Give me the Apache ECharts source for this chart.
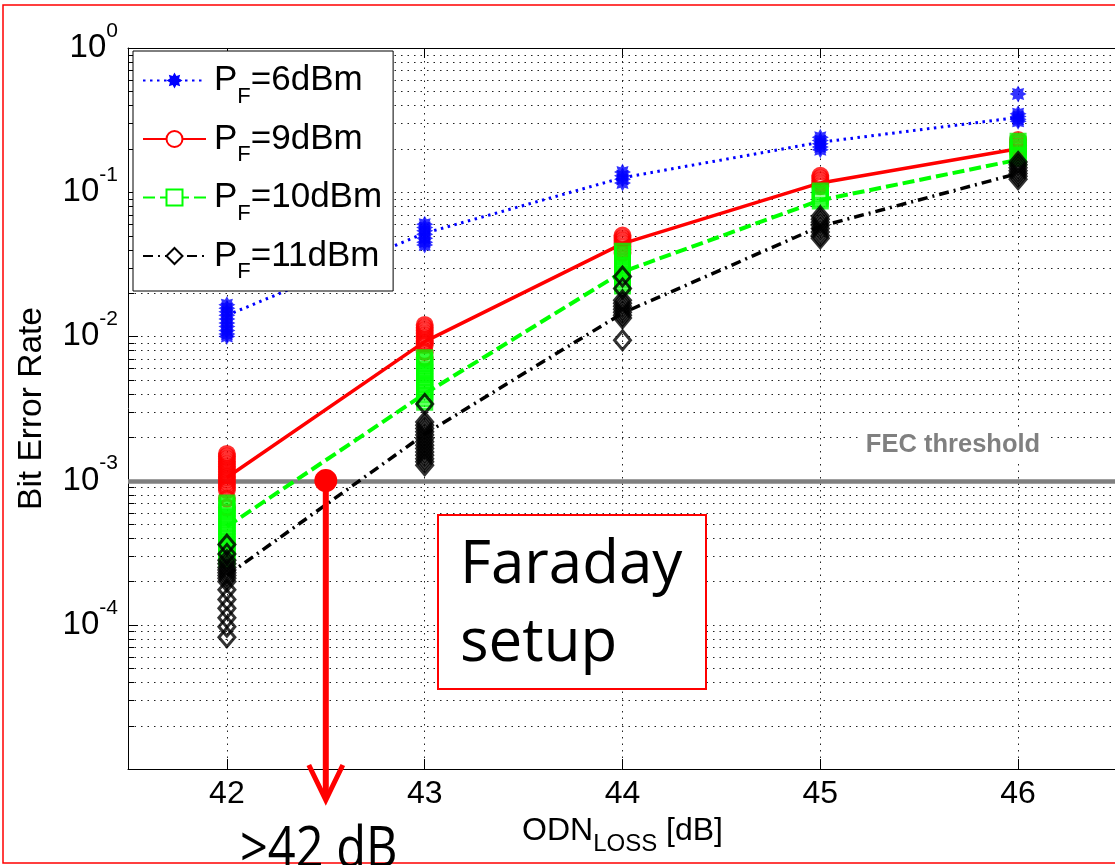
<!DOCTYPE html>
<html>
<head>
<meta charset="utf-8">
<title>BER vs ODN loss - Faraday setup</title>
<script src="https://cdn.jsdelivr.net/npm/echarts@6.0.0/dist/echarts.min.js"></script>
<style>
  html, body { margin: 0; padding: 0; background: #fff; }
  #chart { width: 1115px; height: 865px; }
</style>
</head>
<body>
<div id="chart"></div>
<script>
// ODN loss [dB] at which BER was measured
var lossDb = [42, 43, 44, 45, 46];
var powerNames = ['P_F=6dBm', 'P_F=9dBm', 'P_F=10dBm', 'P_F=11dBm'];

// curve through the measurements (one value per loss)
var ber6dBm = [0.014, 0.052, 0.126, 0.222, 0.33];
var ber9dBm = [1.05e-3, 9.2e-3, 0.044, 0.116, 0.2];
var ber10dBm = [4.8e-4, 4.0e-3, 0.028, 0.088, 0.168];
var ber11dBm = [2.2e-4, 2.1e-3, 0.0145, 0.058, 0.135];

// single measurements, one list per loss value
var runs6dBm = [
  [0.0166, 0.0157, 0.0148, 0.014, 0.0132, 0.0124, 0.0117, 0.011, 0.0104, 0.01],
  [0.06, 0.057, 0.054, 0.051, 0.048, 0.045, 0.043],
  [0.138, 0.13, 0.123, 0.116],
  [0.24, 0.228, 0.217, 0.206, 0.197],
  [0.48, 0.35, 0.335, 0.32, 0.31]
];
var runs9dBm = [
  [1.53e-3, 1.47e-3, 1.41e-3, 1.35e-3, 1.3e-3, 1.25e-3, 1.2e-3, 1.15e-3, 1.1e-3, 1.06e-3, 1.02e-3, 9.8e-4, 9.4e-4, 9.0e-4, 8.6e-4, 7.5e-4, 6.5e-4],
  [0.012, 0.0115, 0.011, 0.0105, 0.0101, 0.0097, 0.0093, 0.009, 0.0087, 0.0078, 0.0071],
  [0.05, 0.048, 0.046, 0.044, 0.042, 0.04, 0.038],
  [0.13, 0.125, 0.12, 0.115, 0.11],
  [0.23, 0.22, 0.21, 0.2, 0.19]
];
var runs10dBm = [
  [7.0e-4, 6.7e-4, 6.4e-4, 6.1e-4, 5.8e-4, 5.55e-4, 5.3e-4, 5.05e-4, 4.8e-4, 4.6e-4, 4.4e-4, 4.2e-4, 4.0e-4, 3.8e-4, 3.6e-4, 3.45e-4, 3.3e-4, 3.15e-4, 3.0e-4, 2.85e-4],
  [7.1e-3, 6.8e-3, 6.5e-3, 6.2e-3, 5.9e-3, 5.65e-3, 5.4e-3, 5.15e-3, 4.9e-3, 4.7e-3, 4.5e-3, 4.3e-3, 4.1e-3, 3.9e-3, 3.7e-3, 3.5e-3],
  [0.039, 0.0372, 0.0355, 0.034, 0.0325, 0.031, 0.0296, 0.0283, 0.027, 0.0258, 0.0246, 0.0235, 0.0224],
  [0.102, 0.098, 0.094, 0.09, 0.087],
  [0.226, 0.216, 0.206, 0.197, 0.188, 0.18, 0.172]
];
var runs11dBm = [
  [3.6e-4, 3.1e-4, 2.8e-4, 2.65e-4, 2.5e-4, 2.4e-4, 2.3e-4, 2.2e-4, 2.1e-4, 2.0e-4, 1.75e-4, 1.5e-4, 1.3e-4, 1.12e-4, 9.7e-5, 8.2e-5],
  [3.4e-3, 2.55e-3, 2.42e-3, 2.3e-3, 2.18e-3, 2.07e-3, 1.96e-3, 1.86e-3, 1.76e-3, 1.67e-3, 1.58e-3, 1.5e-3, 1.42e-3, 1.35e-3, 1.28e-3],
  [0.026, 0.0215, 0.0178, 0.017, 0.0162, 0.0154, 0.0147, 0.014, 0.0134, 0.0094],
  [0.068, 0.065, 0.062, 0.059, 0.056, 0.053, 0.05, 0.048],
  [0.162, 0.155, 0.148, 0.141, 0.135, 0.129, 0.123]
];

var fecBer = 1e-3;      // FEC threshold
var reachDb = 42.5;     // loss where the best curve crosses the threshold

var curves = [ber6dBm, ber9dBm, ber10dBm, ber11dBm];
var runs = [runs6dBm, runs9dBm, runs10dBm, runs11dBm];

// minor grid values 2..9 x 10^n
var minorBer = [];
for (var e = -5; e < 0; e++) {
  for (var k = 2; k <= 9; k++) minorBer.push(k * Math.pow(10, e));
}

var FONT = 'Liberation Sans';
var gridDots = { color: '#222', type: [1.5, 5], width: 1 };

// 8 point star, used for the matlab '*' marker
function starPath() {
  var d = '';
  for (var i = 0; i < 16; i++) {
    var r = i % 2 ? 0.62 : 1;
    var a = i * Math.PI / 8;
    d += (i ? 'L' : 'M') + (r * Math.sin(a)).toFixed(3) + ' ' + (-r * Math.cos(a)).toFixed(3);
  }
  return 'path://' + d + 'Z';
}
var STAR = starPath();

var looks = [
  { color: '#0000ff', type: [2.5, 4.5], width: 3, marker: STAR, legendMarker: STAR, size: 17, filled: true },
  { color: '#ff0000', type: 'solid', width: 3.5, marker: 'circle', legendMarker: 'emptyCircle', size: 15 },
  { color: '#00ff00', type: [12, 5], width: 4, marker: 'rect', legendMarker: 'emptyRect', size: 14 },
  { color: '#000000', type: [10, 5, 2, 5], width: 3.5, marker: 'diamond', legendMarker: 'emptyDiamond', size: [16, 19] }
];

function pairs(arr) {
  return arr.map(function (v, i) { return [lossDb[i], v]; });
}
function runPoints(list) {
  var pts = [];
  for (var i = 0; i < list.length; i++) {
    for (var j = 0; j < list[i].length; j++) pts.push([lossDb[i], list[i][j]]);
  }
  return pts;
}

// horizontal rule across the whole plot at the datum's y
function hRule(stroke, width, dash, tick) {
  return function (params, api) {
    var pt = api.coord([api.value(0), api.value(1)]);
    var cs = params.coordSys;
    var y = Math.round(pt[1]) + 0.5;
    var kids = [{ type: 'line', shape: { x1: cs.x, y1: y, x2: cs.x + cs.width, y2: y },
                  style: { stroke: stroke, lineWidth: width, lineDash: dash } }];
    if (tick) {
      kids.push({ type: 'line', shape: { x1: cs.x, y1: y, x2: cs.x + 6, y2: y },
                  style: { stroke: '#000', lineWidth: 1 } });
    }
    return { type: 'group', children: kids };
  };
}

var series = [];
// minor grid lines + minor ticks
series.push({
  type: 'custom',
  name: 'minor',
  silent: true,
  z: 1,
  data: minorBer.map(function (v) { return [41.5, v]; }),
  renderItem: hRule(gridDots.color, 1, gridDots.type, true)
});
// FEC threshold
series.push({
  type: 'custom',
  name: 'FEC',
  silent: true,
  z: 1,
  data: [[41.5, fecBer]],
  renderItem: hRule('#808080', 4.5, null, false)
});
// curves (first, so the legend takes its icon from them)
for (var s = 0; s < 4; s++) {
  series.push({
    type: 'line',
    name: powerNames[s],
    data: pairs(curves[s]),
    symbol: looks[s].legendMarker,
    showSymbol: false,
    z: 2,
    itemStyle: { color: looks[s].color },
    lineStyle: { color: looks[s].color, type: looks[s].type, width: looks[s].width }
  });
}
// measurement clusters
for (var s2 = 0; s2 < 4; s2++) {
  series.push({
    type: 'scatter',
    name: powerNames[s2],
    data: runPoints(runs[s2]),
    symbol: looks[s2].marker,
    symbolSize: looks[s2].size,
    z: 3,
    itemStyle: looks[s2].filled
      ? { color: looks[s2].color }
      : { color: 'rgba(0,0,0,0)', borderColor: looks[s2].color, borderWidth: 3 }
  });
}

var chart = echarts.init(document.getElementById('chart'));
chart.setOption({
  animation: false,
  backgroundColor: '#fff',
  textStyle: { fontFamily: FONT },
  grid: { left: 128, top: 48, width: 989, height: 721, containLabel: false, outerBoundsMode: 'none' },
  legend: {
    data: powerNames,
    orient: 'vertical',
    left: 133,
    top: 51,
    padding: [12, 11, 8, 9],
    itemGap: 14,
    itemWidth: 63,
    itemHeight: 20,
    backgroundColor: '#fff',
    borderColor: '#000',
    borderWidth: 1,
    borderRadius: 0,
    formatter: function (name) {
      return '{p|P}{f|F}{v|' + name.slice(3) + '}';
    },
    textStyle: {
      color: '#000',
      rich: {
        p: { fontFamily: FONT, fontSize: 35, lineHeight: 35, color: '#000', verticalAlign: 'middle', padding: [0, 0, 0, 3] },
        f: { fontFamily: FONT, fontSize: 22, lineHeight: 23, color: '#000', verticalAlign: 'bottom' },
        v: { fontFamily: FONT, fontSize: 35, lineHeight: 54, color: '#000', verticalAlign: 'middle' }
      }
    }
  },
  xAxis: [{
    type: 'value',
    min: 41.5,
    max: 46.5,
    splitNumber: 5,
    axisLine: { show: true, onZero: false, lineStyle: { color: '#000', width: 1 } },
    axisTick: { show: true, inside: true, length: 10, lineStyle: { color: '#000' } },
    axisLabel: { showMinLabel: false, showMaxLabel: false, margin: 9, color: '#000', fontSize: 32, fontFamily: FONT },
    splitLine: { show: true, lineStyle: gridDots },
    name: '{a|ODN}{s|LOSS}{a| [dB]}',
    nameLocation: 'middle',
    nameGap: 23,
    nameTextStyle: {
      rich: {
        a: { fontFamily: FONT, fontSize: 32, lineHeight: 50, color: '#000', verticalAlign: 'middle' },
        s: { fontFamily: FONT, fontSize: 24, lineHeight: 25, color: '#000', verticalAlign: 'bottom' }
      }
    }
  }, {
    type: 'value',
    position: 'top',
    min: 41.5,
    max: 46.5,
    splitNumber: 5,
    axisLine: { show: true, onZero: false, lineStyle: { color: '#000', width: 1 } },
    axisTick: { show: true, inside: true, length: 10, lineStyle: { color: '#000' } },
    axisLabel: { show: false },
    splitLine: { show: false }
  }],
  yAxis: {
    type: 'log',
    logBase: 10,
    min: 1e-5,
    max: 1,
    axisLine: { show: true, lineStyle: { color: '#000', width: 1 } },
    axisTick: { show: true, inside: true, length: 10, lineStyle: { color: '#000' } },
    axisLabel: {
      showMinLabel: false,
      margin: 10,
      formatter: function (v) {
        return '{b|10}{s|' + Math.round(Math.log10(v)) + '}';
      },
      rich: {
        b: { fontFamily: FONT, fontSize: 33, lineHeight: 33, color: '#000' },
        s: { fontFamily: FONT, fontSize: 21, lineHeight: 21, color: '#000', padding: [0, 0, 34, 0] }
      }
    },
    splitLine: { show: true, lineStyle: gridDots },
    name: 'Bit Error Rate',
    nameLocation: 'middle',
    nameGap: 79,
    nameTextStyle: { fontFamily: FONT, fontSize: 33.5, color: '#000' }
  },
  series: series
});

// annotations placed through the axes
var dot = chart.convertToPixel({ gridIndex: 0 }, [reachDb, fecBer]);
var plotBottom = chart.convertToPixel({ gridIndex: 0 }, [reachDb, 1e-5])[1];
var fecY = dot[1];

chart.setOption({
  graphic: [
    // outer red frame of the slide
    { type: 'rect', shape: { x: 3, y: 5, width: 1200, height: 858 },
      style: { fill: null, stroke: '#ff0000', lineWidth: 1.5 }, z: 50, silent: true },
    { type: 'text', x: 953, y: fecY - 36, z: 60,
      style: { text: 'FEC threshold', font: 'bold 25.5px "Liberation Sans"', fill: '#808080',
               align: 'center', verticalAlign: 'middle', backgroundColor: '#fff', padding: [4, 8] } },
    { type: 'line', shape: { x1: dot[0], y1: fecY, x2: dot[0], y2: plotBottom + 29 },
      style: { stroke: '#ff0000', lineWidth: 6 }, z: 70 },
    { type: 'polyline', shape: { points: [[dot[0] - 17, plotBottom - 4], [dot[0], plotBottom + 31], [dot[0] + 17, plotBottom - 4]] },
      style: { stroke: '#ff0000', lineWidth: 5, fill: null }, z: 70 },
    { type: 'circle', shape: { cx: dot[0], cy: fecY, r: 11.5 }, style: { fill: '#ff0000' }, z: 71 },
    { type: 'text', x: 240, y: 851, scaleX: 0.87, z: 70,
      style: { text: '>42 dB', font: '56px "Open Sans"', fill: '#000', align: 'left', verticalAlign: 'middle' } },
    // text box
    { type: 'rect', shape: { x: 438, y: 515, width: 268, height: 174 },
      style: { fill: '#fff', stroke: '#ff0000', lineWidth: 2 }, z: 60 },
    { type: 'text', x: 460, y: 527, z: 61,
      style: { text: 'Faraday\nsetup', font: '60px "Open Sans"', lineHeight: 78, fill: '#000', align: 'left', verticalAlign: 'top' } }
  ]
});
</script>
</body>
</html>
